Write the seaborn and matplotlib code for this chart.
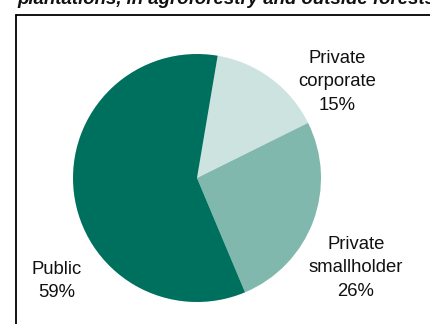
import matplotlib
matplotlib.use("Agg")
import matplotlib.pyplot as plt
from matplotlib.lines import Line2D
import seaborn as sns

categories = ["Private\ncorporate", "Private\nsmallholder", "Public"]
shares = [15, 26, 59]
colors = ["#cde3e0", "#80b8ad", "#00705e"]
title = "plantations, in agroforestry and outside forests"

# layout (pixel coords, y from top)
label_pos = [(337, 82), (356, 268), (57, 281)]

sns.set_theme(style="white")
plt.rcParams["font.family"] = ["Liberation Sans", "DejaVu Sans"]

W, H = 431, 324
fig = plt.figure(figsize=(W / 100, H / 100), dpi=100)
ax = fig.add_axes([0, 0, 1, 1])
ax.set_xlim(0, W)
ax.set_ylim(0, H)
ax.set_aspect("equal")
ax.axis("off")

ax.pie(shares, colors=colors, startangle=80.4, counterclock=False,
       center=(197, H - 178), radius=124,
       wedgeprops=dict(linewidth=0))
ax.set_xlim(0, W)
ax.set_ylim(0, H)

for cat, s, (x, y) in zip(categories, shares, label_pos):
    ax.text(x, H - y, f"{cat}\n{s}%", ha="center", va="center",
            fontsize=13.3, color="#111111", linespacing=1.5)

fig.text(17 / W, 1 - 4.5 / H, title, ha="left", va="baseline",
         fontsize=13.4, fontweight="bold", fontstyle="italic", color="#111111")

fig.add_artist(Line2D([16 / W, 16 / W], [-0.1, 1 - 15 / H], transform=fig.transFigure,
                      color="black", linewidth=1.3))
fig.add_artist(Line2D([16 / W, 1.1], [1 - 15 / H, 1 - 15 / H], transform=fig.transFigure,
                      color="black", linewidth=1.3))

fig.savefig("out.png", dpi=100)
